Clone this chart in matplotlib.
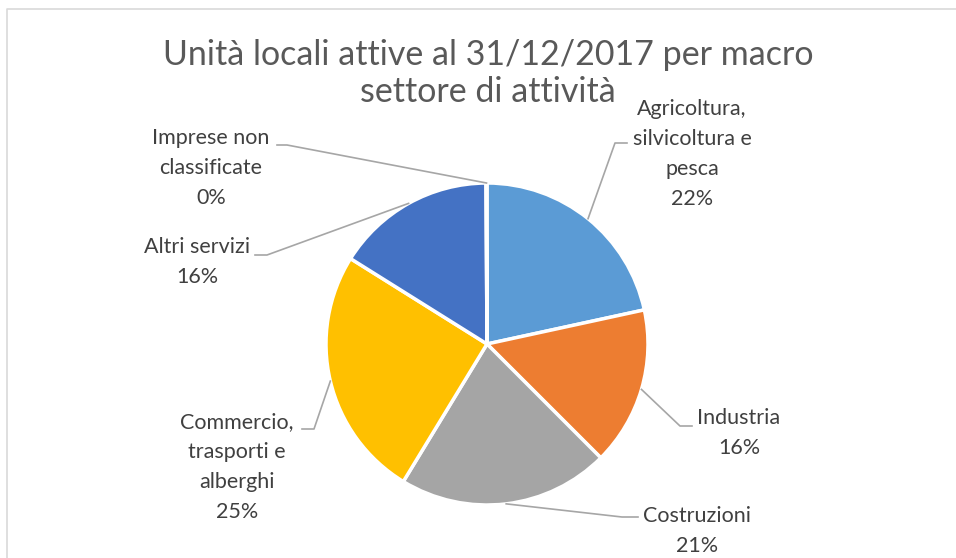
import numpy as np
import matplotlib
matplotlib.use("Agg")
import matplotlib.pyplot as plt

# data
categories = ["Agricoltura,\nsilvicoltura e\npesca", "Industria", "Costruzioni",
              "Commercio,\ntrasporti e\nalberghi", "Altri servizi",
              "Imprese non\nclassificate"]
shares = [21.6, 15.9, 21.2, 25.2, 16.0, 0.1]
colors = ["#5B9BD5", "#ED7D31", "#A5A5A5", "#FFC000", "#4472C4", "#70AD47"]
title_lines = ["Unità locali attive al 31/12/2017 per macro", "settore di attività"]

W, H = 956, 558
plt.rcParams['font.family'] = ['Lato', 'DejaVu Sans']

fig = plt.figure(figsize=(W / 100, H / 100), dpi=100)
ax = fig.add_axes([0, 0, 1, 1])

cx, cy, r = 487, H - 344, 161
wedges, _ = ax.pie(shares, colors=colors, startangle=90, counterclock=False,
                   center=(cx, cy), radius=r,
                   wedgeprops=dict(edgecolor='white', linewidth=2.5))
ax.set_xlim(0, W)
ax.set_ylim(0, H)
ax.axis('off')

# chart border (clipped at right and bottom)
ax.plot([7, 7, W], [0, H - 9, H - 9], color='#D9D9D9', lw=1.2, clip_on=False)

# title, one text per line
for line, base in zip(title_lines, [65, 102]):
    ax.text(488, H - base, line, ha='center', va='baseline', fontsize=24.5,
            color='#595959')

# label layout: text centre, elbow, line end
label_pos = [(692, 154), (739, 433), (697, 531), (237, 467), (197, 262), (211, 168)]
elbows = [(615, 143), (680, 426), (622, 517), (314, 429), (267, 255), (287, 145)]
ends = [(627, 143), (692, 426), (638, 517), (302, 429), (255, 255), (277, 145)]

tot = sum(shares)
for w, cat, v, lp, el, en in zip(wedges, categories, shares, label_pos, elbows, ends):
    mid = np.deg2rad((w.theta1 + w.theta2) / 2)
    sx, sy = cx + r * np.cos(mid), cy + r * np.sin(mid)
    ax.plot([sx, el[0], en[0]], [sy, H - el[1], H - en[1]], color='#A6A6A6', lw=1.2)
    ax.text(lp[0], H - lp[1], f"{cat}\n{round(v / tot * 100):.0f}%", ha='center',
            va='center', fontsize=15.5, color='#404040', linespacing=1.62)

fig.savefig("out.png", dpi=100)
